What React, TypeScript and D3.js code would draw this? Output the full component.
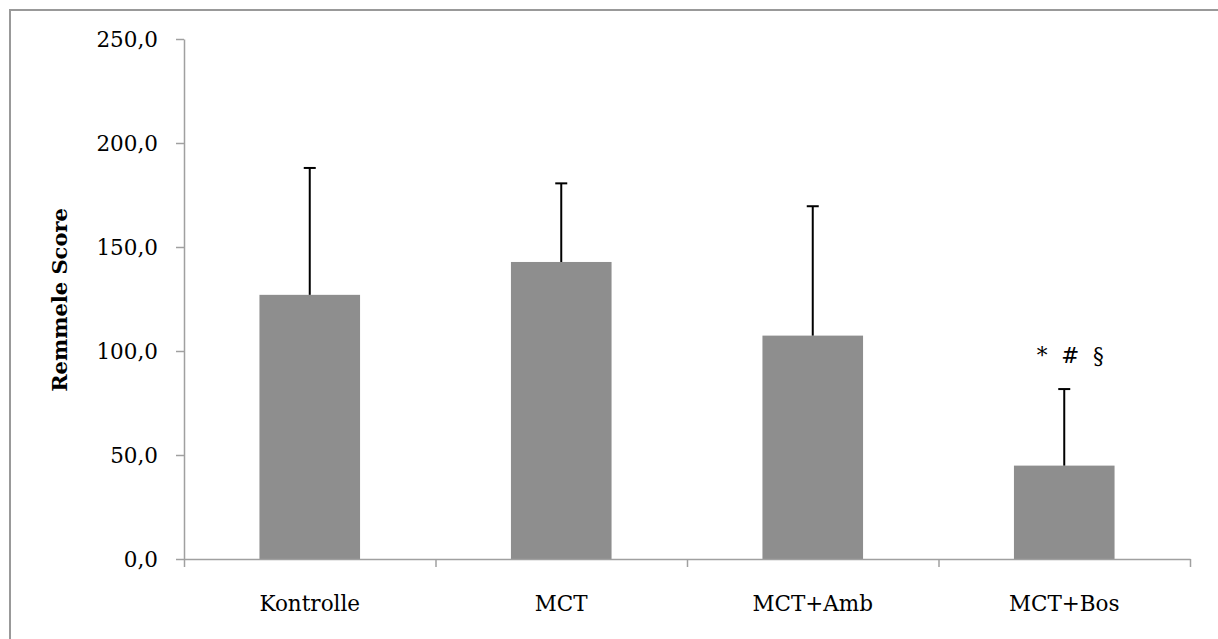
import React, { useEffect, useRef } from "react";
import * as d3 from "d3";

const categories = ["Kontrolle", "MCT", "MCT+Amb", "MCT+Bos"];
const means = [127.0, 142.8, 107.4, 44.9];
const errorTops = [188.0, 180.6, 169.6, 81.7];
const yTicks = [0, 50, 100, 150, 200, 250];
const annotations = ["", "", "", "*  #  §"];

const W = 1218;
const H = 639;

export default function App() {
  const ref = useRef<SVGSVGElement>(null);

  useEffect(() => {
    const svg = d3.select(ref.current);
    svg.selectAll("*").remove();
    const font = "'DejaVu Serif', serif";
    const fs = 21.5;

    // outer frame (only top/left visible in the window)
    svg.append("rect")
      .attr("x", 10).attr("y", 10)
      .attr("width", 1400).attr("height", 800)
      .attr("fill", "none").attr("stroke", "#999").attr("stroke-width", 2);

    const x = d3.scaleBand().domain(categories).range([184, 1190]).paddingInner(0.6).paddingOuter(0.3);
    const y = d3.scaleLinear().domain([0, 250]).range([559, 39]);

    // bars
    svg.selectAll(".bar")
      .data(categories)
      .enter()
      .append("rect")
      .attr("x", d => x(d)!)
      .attr("y", (d, i) => y(means[i]))
      .attr("width", x.bandwidth())
      .attr("height", (d, i) => y(0) - y(means[i]))
      .attr("fill", "#8e8e8e");

    // error bars
    const cx = (d: string) => x(d)! + x.bandwidth() / 2;
    const eg = svg.append("g").attr("stroke", "#000").attr("stroke-width", 2);
    categories.forEach((d, i) => {
      eg.append("line").attr("x1", cx(d)).attr("x2", cx(d)).attr("y1", y(means[i])).attr("y2", y(errorTops[i]));
      eg.append("line").attr("x1", cx(d) - 6).attr("x2", cx(d) + 6).attr("y1", y(errorTops[i])).attr("y2", y(errorTops[i]));
    });

    // y axis
    const yAxis = svg.append("g").attr("transform", "translate(184,0)")
      .call(d3.axisLeft(y).tickValues(yTicks).tickSize(8).tickSizeOuter(0)
        .tickFormat(d => d3.format(".1f")(d as number).replace(".", ",")));
    yAxis.select(".domain").attr("stroke", "#a0a0a0").attr("stroke-width", 1.5);
    yAxis.selectAll(".tick line").attr("stroke", "#a0a0a0").attr("stroke-width", 1.5);
    yAxis.selectAll(".tick text")
      .attr("x", -26).attr("dy", "0.35em")
      .attr("font-family", font).attr("font-size", fs).attr("fill", "#000");

    // x axis (ticks between categories)
    const xb = d3.scaleLinear().domain([0, categories.length]).range([184, 1190]);
    const xAxis = svg.append("g").attr("transform", `translate(0,${y(0)})`)
      .call(d3.axisBottom(xb).ticks(4).tickSize(8).tickSizeOuter(0).tickFormat(() => ""));
    xAxis.select(".domain").attr("stroke", "#a0a0a0").attr("stroke-width", 1.5);
    xAxis.selectAll(".tick line").attr("stroke", "#a0a0a0").attr("stroke-width", 1.5);

    svg.selectAll(".xlab")
      .data(categories)
      .enter()
      .append("text")
      .attr("x", d => cx(d))
      .attr("y", 611)
      .attr("text-anchor", "middle")
      .attr("font-family", font).attr("font-size", fs)
      .text(d => d);

    // significance marks
    svg.selectAll(".ann")
      .data(categories)
      .enter()
      .append("text")
      .attr("x", d => cx(d) + 6)
      .attr("y", 363)
      .attr("text-anchor", "middle")
      .attr("font-family", font).attr("font-size", fs)
      .attr("xml:space", "preserve")
      .style("white-space", "pre")
      .text((d, i) => annotations[i]);

    // y title
    svg.append("text")
      .attr("transform", "translate(67,300) rotate(-90)")
      .attr("text-anchor", "middle")
      .attr("font-family", font).attr("font-size", 21).attr("font-weight", "bold")
      .text("Remmele Score");
  }, []);

  return (
    <svg ref={ref} width={W} height={H}
      style={{ position: "absolute", left: 0, top: 0, background: "#fff" }} />
  );
}
